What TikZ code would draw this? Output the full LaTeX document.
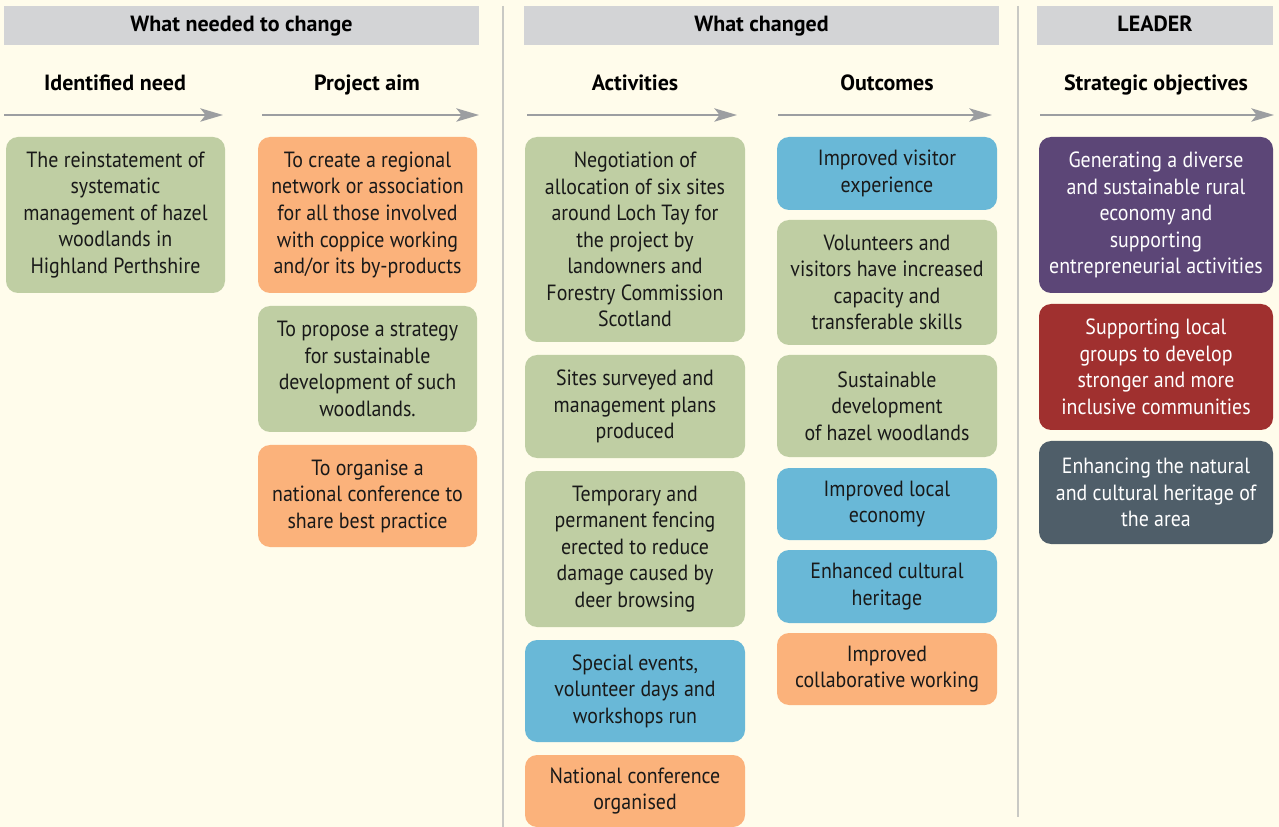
\documentclass[tikz,border=0pt]{standalone}
\usepackage{fontspec}
\setmainfont[FakeStretch=0.905]{PT Sans}
\newfontfamily\hdfont{PT Sans}
\usetikzlibrary{arrows.meta}
\definecolor{bg}{HTML}{FFFCEB}
\definecolor{hdr}{HTML}{D3D4D6}
\definecolor{sep}{HTML}{C9C9C4}
\definecolor{arr}{HTML}{9C9EA1}
\definecolor{cgreen}{HTML}{BFCEA3}
\definecolor{corange}{HTML}{FBB27B}
\definecolor{cblue}{HTML}{69B8D7}
\definecolor{cpurple}{HTML}{5C4677}
\definecolor{cred}{HTML}{A0302F}
\definecolor{cslate}{HTML}{4F5E69}
\tikzset{
  box/.style={rounded corners=9pt, draw=none, anchor=north west, align=center,
    inner sep=2pt, outer sep=0pt, font=\fontsize{16.5}{19.9}\selectfont, text=black!90},
  hbar/.style={fill=hdr, draw=none, anchor=north west, inner sep=0pt, outer sep=0pt},
  hdtext/.style={font=\hdfont\bfseries\fontsize{16.5}{19.9}\selectfont, inner sep=0pt, anchor=base},
  flow/.style={draw=arr, line width=1.5pt, -{Stealth[length=17pt,width=10pt,inset=4pt]}},
  sepline/.style={draw=sep, line width=1.5pt},
}
\newcommand{\bx}[7]{\node[box, fill=#6, minimum width=#5*0.75pt, minimum height=(#4-#3)*0.75pt] (#1) at (#2,#3) {#7};}
\begin{document}
\begin{tikzpicture}[x=0.75pt,y=-0.75pt]
\fill[bg] (0,0) rectangle (1279,827);
\useasboundingbox (0,0) rectangle (1279,827);
% separators
\coordinate (s1t) at (503,6); \coordinate (s1b) at (503,827);
\coordinate (s2t) at (1018,6); \coordinate (s2b) at (1018,817);
\draw[sepline] (s1t) -- (s1b);
\draw[sepline] (s2t) -- (s2b);
% header bars
\node[hbar, minimum width=475*0.75pt, minimum height=39*0.75pt] (h1) at (4,6) {};
\node[hbar, minimum width=475*0.75pt, minimum height=39*0.75pt] (h2) at (524,6) {};
\node[hbar, minimum width=236*0.75pt, minimum height=39*0.75pt] (h3) at (1037,6) {};
\node[hdtext] (h1t) at (241.5,32) {What needed to change};
\node[hdtext] (h2t) at (761.5,32) {What changed};
\node[hdtext] (h3t) at (1155,32) {LEADER};
% subheadings
\node[hdtext] (t1) at (115,91) {Identified need};
\node[hdtext] (t2) at (367,91) {Project aim};
\node[hdtext] (t3) at (635,91) {Activities};
\node[hdtext] (t4) at (887,91) {Outcomes};
\node[hdtext] (t5) at (1156,91) {Strategic objectives};
% arrows
\coordinate (a1s) at (4,115);    \coordinate (a1e) at (223,115);
\coordinate (a2s) at (262,115);  \coordinate (a2e) at (479,115);
\coordinate (a3s) at (527,115);  \coordinate (a3e) at (737,115);
\coordinate (a4s) at (778,115);  \coordinate (a4e) at (992,115);
\coordinate (a5s) at (1040,115); \coordinate (a5e) at (1274,115);
\draw[flow] (a1s) -- (a1e);
\draw[flow] (a2s) -- (a2e);
\draw[flow] (a3s) -- (a3e);
\draw[flow] (a4s) -- (a4e);
\draw[flow] (a5s) -- (a5e);
% column 1
\bx{n1}{6}{137}{293}{219}{cgreen}{The reinstatement of\\systematic\\management of hazel\\woodlands in\\Highland Perthshire}
% column 2
\bx{p1}{258}{137}{293}{219}{corange}{To create a regional\\network or association\\for all those involved\\with coppice working\\and/or its by-products}
\bx{p2}{258}{306}{432}{219}{cgreen}{To propose a strategy\\for sustainable\\development of such\\woodlands.}
\bx{p3}{258}{445}{547}{219}{corange}{To organise a\\national conference to\\share best practice}
% column 3
\bx{c1}{525}{137}{342}{220}{cgreen}{Negotiation of\\allocation of six sites\\around Loch Tay for\\the project by\\landowners and\\Forestry Commission\\Scotland}
\bx{c2}{525}{355}{458}{220}{cgreen}{Sites surveyed and\\management plans\\produced}
\bx{c3}{525}{471}{627}{220}{cgreen}{Temporary and\\permanent fencing\\erected to reduce\\damage caused by\\deer browsing}
\bx{c4}{525}{640}{742}{220}{cblue}{Special events,\\volunteer days and\\workshops run}
\bx{c5}{525}{755}{827}{220}{corange}{National conference\\organised}
% column 4
\bx{o1}{777}{137}{210}{220}{cblue}{Improved visitor\\experience}
\bx{o2}{777}{220}{345}{220}{cgreen}{Volunteers and\\visitors have increased\\capacity and\\transferable skills}
\bx{o3}{777}{355}{457}{220}{cgreen}{Sustainable\\development\\of hazel woodlands}
\bx{o4}{777}{468}{540}{220}{cblue}{Improved local\\economy}
\bx{o5}{777}{550}{623}{220}{cblue}{Enhanced cultural\\heritage}
\bx{o6}{777}{633}{705}{220}{corange}{Improved\\collaborative working}
% column 5
\bx{l1}{1039}{137}{293}{234}{cpurple}{\color{white}Generating a diverse\\\color{white}and sustainable rural\\\color{white}economy and\\\color{white}supporting\\\color{white}entrepreneurial activities}
\bx{l2}{1039}{304}{430}{234}{cred}{\color{white}Supporting local\\\color{white}groups to develop\\\color{white}stronger and more\\\color{white}inclusive communities}
\bx{l3}{1039}{441}{544}{234}{cslate}{\color{white}Enhancing the natural\\\color{white}and cultural heritage of\\\color{white}the area}
\end{tikzpicture}
\end{document}
